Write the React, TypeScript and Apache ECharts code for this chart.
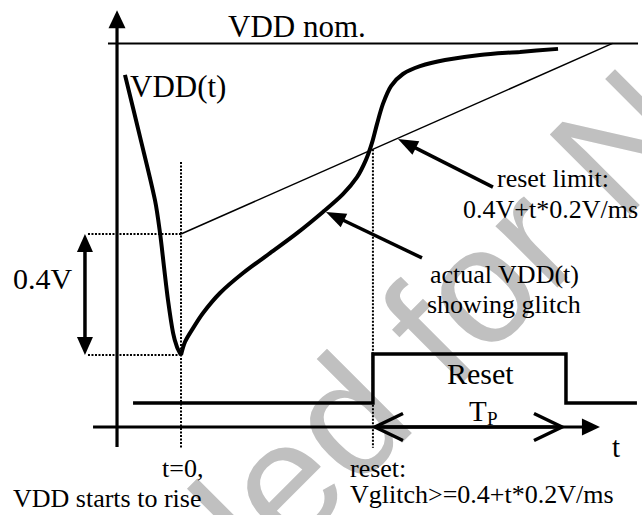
import React, { useEffect, useRef } from 'react';
import * as echarts from 'echarts';

// ---------- layout (pixels) ----------
const W = 642;
const H = 515;
const PX_T0 = 181; // x pixel of t = 0
const PX_PER_MS = 137;
const PY_V0 = 355; // y pixel of glitch minimum (dV = 0)
const PX_PER_V = 302.5;
const PY_L0 = 403; // y pixel of reset logic level 0
const PX_PER_LEVEL = 49;

// ---------- data (t in ms, V relative to glitch minimum) ----------
const VDD_FALL_T = [-0.409, -0.299, -0.19, -0.153, -0.124, -0.095, -0.058, -0.029, 0];
const VDD_FALL_V = [0.926, 0.721, 0.512, 0.403, 0.291, 0.182, 0.073, 0.026, 0];

const VDD_RISE_T = [0, 0.029, 0.08, 0.161, 0.285, 0.453, 0.65, 0.847, 1.036, 1.182, 1.285, 1.35, 1.394, 1.431, 1.474, 1.533, 1.62, 1.745, 1.927, 2.182, 2.474, 2.752];
const VDD_RISE_V = [0, 0.043, 0.083, 0.139, 0.205, 0.271, 0.337, 0.403, 0.473, 0.532, 0.588, 0.645, 0.701, 0.764, 0.83, 0.889, 0.929, 0.955, 0.975, 0.992, 1.002, 1.012];

const VDD_NOM = 1.03;
const NOM_LINE_T = [-0.533, 3.336];

const RESET_LIMIT_T = [0, 3.15];
const RESET_LIMIT_V = [0.4, 1.03];

const RESET_T = [-0.35, 1.401, 1.401, 2.81, 2.81, 3.328];
const RESET_LEVEL = [0, 0, 1, 1, 0, 0];

const T0_MARK_T = [0, 0];
const T0_MARK_V = [0.638, -0.307];
const TRESET_MARK_T = [1.401, 1.401];
const TRESET_MARK_V = [0.68, -0.307];
const DEPTH_TOP_T = [-0.679, 0];
const DEPTH_TOP_V = [0.4, 0.4];
const DEPTH_BOT_T = [-0.679, -0.013];
const DEPTH_BOT_V = [0, 0];

// arrows: [t0, v0, t1, v1]
const AXIS_ARROWS = [
  [-0.467, -0.304, -0.467, 1.14],
  [-0.642, -0.238, 3.058, -0.238],
];
const DEPTH_ARROW = [[-0.701, 0, -0.701, 0.4]];
const POINTER_ARROWS = [
  [2.277, 0.555, 1.584, 0.714],
  [1.759, 0.321, 1.058, 0.473],
];
const TP_ARROW = [[1.416, -0.238, 2.781, -0.238]];

// ---------- labels ----------
const SERIF = 'Liberation Serif, Times New Roman, serif';
const LABELS: { text: string; x: number; base: number; fs: number; lh?: number }[] = [
  { text: 'VDD nom.', x: 228, base: 37, fs: 31 },
  { text: 'VDD(t)', x: 130, base: 97, fs: 31 },
  { text: '0.4V', x: 13, base: 289, fs: 30 },
  { text: 'reset limit:', x: 497, base: 187, fs: 26 },
  { text: '0.4V+t*0.2V/ms', x: 463, base: 218, fs: 26 },
  { text: 'actual VDD(t)', x: 430, base: 283, fs: 26 },
  { text: 'showing glitch', x: 427, base: 313, fs: 26 },
  { text: 'Reset', x: 447, base: 384, fs: 30 },
  { text: 'T', x: 469, base: 421, fs: 29 },
  { text: 'P', x: 487, base: 425, fs: 19 },
  { text: 't', x: 612, base: 457, fs: 29 },
  { text: 't=0,', x: 162, base: 477, fs: 26 },
  { text: 'VDD starts to rise', x: 13, base: 507, fs: 26 },
  { text: 'reset:\nVglitch>=0.4+t*0.2V/ms', x: 350, base: 477.5, fs: 26, lh: 26 },
];

const zip = (a: number[], b: number[]) => a.map((v, i) => [v, b[i]]);

function makeArrowRender(w: number, startHead: string, endHead: string, len: number, hw: number) {
  return (_params: any, api: any) => {
    const a = api.coord([api.value(0), api.value(1)]);
    const b = api.coord([api.value(2), api.value(3)]);
    const dx = b[0] - a[0];
    const dy = b[1] - a[1];
    const d = Math.hypot(dx, dy) || 1;
    const ux = dx / d;
    const uy = dy / d;
    let s = [a[0], a[1]];
    let e = [b[0], b[1]];
    if (endHead === 'filled') e = [b[0] - ux * len * 0.7, b[1] - uy * len * 0.7];
    if (startHead === 'filled') s = [a[0] + ux * len * 0.7, a[1] + uy * len * 0.7];
    const children: any[] = [
      { type: 'line', shape: { x1: s[0], y1: s[1], x2: e[0], y2: e[1] }, style: { stroke: '#000', lineWidth: w } },
    ];
    const head = (tip: number[], dirx: number, diry: number, kind: string) => {
      const bx = tip[0] - dirx * len;
      const by = tip[1] - diry * len;
      const p1 = [bx - diry * hw, by + dirx * hw];
      const p2 = [bx + diry * hw, by - dirx * hw];
      if (kind === 'filled') {
        children.push({ type: 'polygon', shape: { points: [tip, p1, p2] }, style: { fill: '#000', stroke: 'none' } });
      } else {
        children.push({ type: 'polyline', shape: { points: [p1, tip, p2] }, style: { stroke: '#000', lineWidth: w, fill: 'none', lineJoin: 'miter' } });
      }
    };
    if (endHead !== 'none') head(b, ux, uy, endHead);
    if (startHead !== 'none') head(a, -ux, -uy, startHead);
    return { type: 'group', children };
  };
}

const lineSeries = (data: number[][], width: number, extra: any = {}) => ({
  type: 'line',
  data,
  symbol: 'none',
  showSymbol: false,
  silent: true,
  ...extra,
  lineStyle: { color: '#000', width, ...(extra.lineStyle || {}) },
});

const dotted = (t: number[], v: number[]) =>
  lineSeries(zip(t, v), 2, { lineStyle: { type: [2, 1.5] } });

export default function App() {
  const ref = useRef<HTMLDivElement>(null);

  useEffect(() => {
    const chart = echarts.init(ref.current!, null, { renderer: 'svg' });

    const labelEls = LABELS.map((l) => {
      const lh = l.lh || l.fs;
      const firstCenter = l.base - 0.3375 * l.fs;
      return {
        type: 'text',
        x: l.x,
        y: firstCenter - lh / 2,
        z: 100,
        style: {
          text: l.text,
          fontFamily: SERIF,
          fontSize: l.fs,
          lineHeight: lh,
          fill: '#000',
          textAlign: 'left',
          textVerticalAlign: 'top',
        },
      };
    });

    const WM_FS = 165;
    const wmMid = -0.3465 * WM_FS;
    const wmStyle = { fontFamily: 'Liberation Sans, Arial, sans-serif', fontSize: WM_FS, fill: '#c0c0c0', textVerticalAlign: 'middle' };
    const watermark = {
      type: 'group',
      x: 452,
      y: 393,
      rotation: Math.PI / 4,
      z: 0,
      children: [
        { type: 'text', x: -0.278 * WM_FS, y: wmMid, z: 0, style: { ...wmStyle, text: 'Not Recommended', textAlign: 'right' } },
        { type: 'text', x: 0, y: wmMid, z: 0, style: { ...wmStyle, text: 'for New Designs', textAlign: 'left' } },
      ],
    };

    const option: any = {
      animation: false,
      backgroundColor: '#fff',
      grid: { left: 0, top: 0, right: 0, bottom: 0, containLabel: false },
      xAxis: {
        type: 'value',
        min: -PX_T0 / PX_PER_MS,
        max: (W - PX_T0) / PX_PER_MS,
        show: false,
      },
      yAxis: [
        { type: 'value', min: (PY_V0 - H) / PX_PER_V, max: PY_V0 / PX_PER_V, show: false },
        { type: 'value', min: (PY_L0 - H) / PX_PER_LEVEL, max: PY_L0 / PX_PER_LEVEL, show: false },
      ],
      graphic: { elements: [watermark, ...labelEls] },
      series: [
        lineSeries(zip(NOM_LINE_T, [VDD_NOM, VDD_NOM]), 2),
        lineSeries(zip(RESET_LIMIT_T, RESET_LIMIT_V), 1.5),
        dotted(T0_MARK_T, T0_MARK_V),
        dotted(TRESET_MARK_T, TRESET_MARK_V),
        dotted(DEPTH_TOP_T, DEPTH_TOP_V),
        dotted(DEPTH_BOT_T, DEPTH_BOT_V),
        lineSeries(zip(VDD_FALL_T, VDD_FALL_V), 4, { smooth: 0.3 }),
        lineSeries(zip(VDD_RISE_T, VDD_RISE_V), 4, { smooth: 0.3 }),
        lineSeries(zip(RESET_T, RESET_LEVEL), 3.5, { yAxisIndex: 1, lineStyle: { join: 'miter' } }),
        { type: 'custom', silent: true, data: AXIS_ARROWS, renderItem: makeArrowRender(3.2, 'none', 'filled', 18, 8.5) },
        { type: 'custom', silent: true, data: DEPTH_ARROW, renderItem: makeArrowRender(3.5, 'filled', 'filled', 18, 8) },
        { type: 'custom', silent: true, data: POINTER_ARROWS, renderItem: makeArrowRender(3.5, 'none', 'filled', 20, 7.5) },
        { type: 'custom', silent: true, data: TP_ARROW, renderItem: makeArrowRender(3.5, 'open', 'open', 28, 13.5) },
      ],
    };

    chart.setOption(option);
    return () => chart.dispose();
  }, []);

  return (
    <div
      ref={ref}
      style={{ position: 'fixed', left: 0, top: 0, width: W, height: H, background: '#fff' }}
    />
  );
}
